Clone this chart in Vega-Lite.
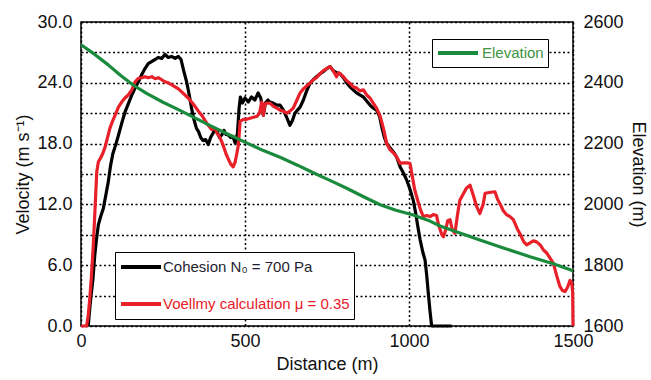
{
  "$schema": "https://vega.github.io/schema/vega-lite/v6.json",
  "width": 492,
  "height": 304,
  "autosize": {"type": "none"},
  "padding": {"left": 81, "top": 22, "right": 78, "bottom": 54},
  "config": {
    "font": "Liberation Sans",
    "view": {"stroke": "black", "strokeWidth": 1.5},
    "axis": {
      "labelFont": "Liberation Sans",
      "titleFont": "Liberation Sans",
      "labelFontSize": 18,
      "titleFontSize": 18,
      "titleFontWeight": "normal",
      "labelColor": "#111",
      "titleColor": "#111",
      "ticks": false,
      "domain": false,
      "gridColor": "black",
      "gridDash": [2, 2.5],
      "gridWidth": 1.5,
      "gridOpacity": 1,
      "labelFlush": false,
      "labelOverlap": false
    },
    "legend": {
      "labelFont": "Liberation Sans",
      "labelFontSize": 15,
      "labelLimit": 0,
      "symbolStrokeWidth": 4,
      "symbolType": "stroke",
      "symbolSize": 1600
    }
  },
  "datasets": {
    "velocity": [
      {"distance": 22, "velocity": 0, "series": "Cohesion N₀ = 700 Pa"},
      {"distance": 26, "velocity": 1.5, "series": "Cohesion N₀ = 700 Pa"},
      {"distance": 30, "velocity": 2.8, "series": "Cohesion N₀ = 700 Pa"},
      {"distance": 36, "velocity": 4.5, "series": "Cohesion N₀ = 700 Pa"},
      {"distance": 42, "velocity": 7.0, "series": "Cohesion N₀ = 700 Pa"},
      {"distance": 47, "velocity": 8.5, "series": "Cohesion N₀ = 700 Pa"},
      {"distance": 53, "velocity": 10.0, "series": "Cohesion N₀ = 700 Pa"},
      {"distance": 60, "velocity": 10.8, "series": "Cohesion N₀ = 700 Pa"},
      {"distance": 68, "velocity": 11.6, "series": "Cohesion N₀ = 700 Pa"},
      {"distance": 75, "velocity": 12.8, "series": "Cohesion N₀ = 700 Pa"},
      {"distance": 83, "velocity": 14.2, "series": "Cohesion N₀ = 700 Pa"},
      {"distance": 90, "velocity": 15.8, "series": "Cohesion N₀ = 700 Pa"},
      {"distance": 97, "velocity": 17.0, "series": "Cohesion N₀ = 700 Pa"},
      {"distance": 105, "velocity": 17.8, "series": "Cohesion N₀ = 700 Pa"},
      {"distance": 114, "velocity": 18.8, "series": "Cohesion N₀ = 700 Pa"},
      {"distance": 124, "velocity": 20.0, "series": "Cohesion N₀ = 700 Pa"},
      {"distance": 134, "velocity": 21.1, "series": "Cohesion N₀ = 700 Pa"},
      {"distance": 145, "velocity": 22.0, "series": "Cohesion N₀ = 700 Pa"},
      {"distance": 155, "velocity": 22.8, "series": "Cohesion N₀ = 700 Pa"},
      {"distance": 165, "velocity": 23.5, "series": "Cohesion N₀ = 700 Pa"},
      {"distance": 175, "velocity": 24.1, "series": "Cohesion N₀ = 700 Pa"},
      {"distance": 185, "velocity": 24.8, "series": "Cohesion N₀ = 700 Pa"},
      {"distance": 195, "velocity": 25.4, "series": "Cohesion N₀ = 700 Pa"},
      {"distance": 205, "velocity": 25.9, "series": "Cohesion N₀ = 700 Pa"},
      {"distance": 215, "velocity": 26.1, "series": "Cohesion N₀ = 700 Pa"},
      {"distance": 226, "velocity": 26.3, "series": "Cohesion N₀ = 700 Pa"},
      {"distance": 236, "velocity": 26.5, "series": "Cohesion N₀ = 700 Pa"},
      {"distance": 246, "velocity": 26.4, "series": "Cohesion N₀ = 700 Pa"},
      {"distance": 256, "velocity": 26.8, "series": "Cohesion N₀ = 700 Pa"},
      {"distance": 266, "velocity": 26.5, "series": "Cohesion N₀ = 700 Pa"},
      {"distance": 276, "velocity": 26.6, "series": "Cohesion N₀ = 700 Pa"},
      {"distance": 287, "velocity": 26.4, "series": "Cohesion N₀ = 700 Pa"},
      {"distance": 297, "velocity": 26.6, "series": "Cohesion N₀ = 700 Pa"},
      {"distance": 305, "velocity": 26.3, "series": "Cohesion N₀ = 700 Pa"},
      {"distance": 313, "velocity": 25.2, "series": "Cohesion N₀ = 700 Pa"},
      {"distance": 322, "velocity": 24.1, "series": "Cohesion N₀ = 700 Pa"},
      {"distance": 330, "velocity": 22.8, "series": "Cohesion N₀ = 700 Pa"},
      {"distance": 337, "velocity": 21.5, "series": "Cohesion N₀ = 700 Pa"},
      {"distance": 345, "velocity": 20.3, "series": "Cohesion N₀ = 700 Pa"},
      {"distance": 352, "velocity": 19.5, "series": "Cohesion N₀ = 700 Pa"},
      {"distance": 358, "velocity": 19.2, "series": "Cohesion N₀ = 700 Pa"},
      {"distance": 365, "velocity": 18.6, "series": "Cohesion N₀ = 700 Pa"},
      {"distance": 372, "velocity": 18.3, "series": "Cohesion N₀ = 700 Pa"},
      {"distance": 380, "velocity": 18.4, "series": "Cohesion N₀ = 700 Pa"},
      {"distance": 388, "velocity": 17.9, "series": "Cohesion N₀ = 700 Pa"},
      {"distance": 395, "velocity": 18.6, "series": "Cohesion N₀ = 700 Pa"},
      {"distance": 402, "velocity": 19.0, "series": "Cohesion N₀ = 700 Pa"},
      {"distance": 409, "velocity": 19.5, "series": "Cohesion N₀ = 700 Pa"},
      {"distance": 415, "velocity": 19.2, "series": "Cohesion N₀ = 700 Pa"},
      {"distance": 422, "velocity": 18.6, "series": "Cohesion N₀ = 700 Pa"},
      {"distance": 429, "velocity": 18.85, "series": "Cohesion N₀ = 700 Pa"},
      {"distance": 436, "velocity": 19.3, "series": "Cohesion N₀ = 700 Pa"},
      {"distance": 442, "velocity": 18.9, "series": "Cohesion N₀ = 700 Pa"},
      {"distance": 449, "velocity": 18.85, "series": "Cohesion N₀ = 700 Pa"},
      {"distance": 456, "velocity": 18.6, "series": "Cohesion N₀ = 700 Pa"},
      {"distance": 463, "velocity": 18.7, "series": "Cohesion N₀ = 700 Pa"},
      {"distance": 470, "velocity": 18.05, "series": "Cohesion N₀ = 700 Pa"},
      {"distance": 477, "velocity": 19.0, "series": "Cohesion N₀ = 700 Pa"},
      {"distance": 482, "velocity": 21.5, "series": "Cohesion N₀ = 700 Pa"},
      {"distance": 486, "velocity": 22.6, "series": "Cohesion N₀ = 700 Pa"},
      {"distance": 492, "velocity": 22.0, "series": "Cohesion N₀ = 700 Pa"},
      {"distance": 500, "velocity": 22.5, "series": "Cohesion N₀ = 700 Pa"},
      {"distance": 510, "velocity": 22.1, "series": "Cohesion N₀ = 700 Pa"},
      {"distance": 520, "velocity": 22.6, "series": "Cohesion N₀ = 700 Pa"},
      {"distance": 530, "velocity": 22.3, "series": "Cohesion N₀ = 700 Pa"},
      {"distance": 540, "velocity": 23.0, "series": "Cohesion N₀ = 700 Pa"},
      {"distance": 548, "velocity": 22.5, "series": "Cohesion N₀ = 700 Pa"},
      {"distance": 556, "velocity": 20.8, "series": "Cohesion N₀ = 700 Pa"},
      {"distance": 562, "velocity": 22.0, "series": "Cohesion N₀ = 700 Pa"},
      {"distance": 570, "velocity": 22.3, "series": "Cohesion N₀ = 700 Pa"},
      {"distance": 576, "velocity": 22.1, "series": "Cohesion N₀ = 700 Pa"},
      {"distance": 586, "velocity": 22.0, "series": "Cohesion N₀ = 700 Pa"},
      {"distance": 597, "velocity": 21.8, "series": "Cohesion N₀ = 700 Pa"},
      {"distance": 607, "velocity": 21.8, "series": "Cohesion N₀ = 700 Pa"},
      {"distance": 617, "velocity": 21.3, "series": "Cohesion N₀ = 700 Pa"},
      {"distance": 627, "velocity": 20.6, "series": "Cohesion N₀ = 700 Pa"},
      {"distance": 637, "velocity": 19.8, "series": "Cohesion N₀ = 700 Pa"},
      {"distance": 645, "velocity": 20.3, "series": "Cohesion N₀ = 700 Pa"},
      {"distance": 652, "velocity": 21.0, "series": "Cohesion N₀ = 700 Pa"},
      {"distance": 660, "velocity": 21.3, "series": "Cohesion N₀ = 700 Pa"},
      {"distance": 668, "velocity": 21.6, "series": "Cohesion N₀ = 700 Pa"},
      {"distance": 678, "velocity": 22.3, "series": "Cohesion N₀ = 700 Pa"},
      {"distance": 688, "velocity": 23.2, "series": "Cohesion N₀ = 700 Pa"},
      {"distance": 698, "velocity": 23.95, "series": "Cohesion N₀ = 700 Pa"},
      {"distance": 708, "velocity": 24.3, "series": "Cohesion N₀ = 700 Pa"},
      {"distance": 718, "velocity": 24.6, "series": "Cohesion N₀ = 700 Pa"},
      {"distance": 729, "velocity": 24.9, "series": "Cohesion N₀ = 700 Pa"},
      {"distance": 739, "velocity": 25.1, "series": "Cohesion N₀ = 700 Pa"},
      {"distance": 749, "velocity": 25.4, "series": "Cohesion N₀ = 700 Pa"},
      {"distance": 759, "velocity": 25.6, "series": "Cohesion N₀ = 700 Pa"},
      {"distance": 769, "velocity": 25.2, "series": "Cohesion N₀ = 700 Pa"},
      {"distance": 779, "velocity": 25.0, "series": "Cohesion N₀ = 700 Pa"},
      {"distance": 790, "velocity": 24.9, "series": "Cohesion N₀ = 700 Pa"},
      {"distance": 800, "velocity": 24.5, "series": "Cohesion N₀ = 700 Pa"},
      {"distance": 810, "velocity": 24.0, "series": "Cohesion N₀ = 700 Pa"},
      {"distance": 820, "velocity": 23.6, "series": "Cohesion N₀ = 700 Pa"},
      {"distance": 830, "velocity": 23.3, "series": "Cohesion N₀ = 700 Pa"},
      {"distance": 840, "velocity": 23.0, "series": "Cohesion N₀ = 700 Pa"},
      {"distance": 850, "velocity": 22.8, "series": "Cohesion N₀ = 700 Pa"},
      {"distance": 861, "velocity": 22.6, "series": "Cohesion N₀ = 700 Pa"},
      {"distance": 871, "velocity": 22.2, "series": "Cohesion N₀ = 700 Pa"},
      {"distance": 881, "velocity": 21.8, "series": "Cohesion N₀ = 700 Pa"},
      {"distance": 891, "velocity": 21.5, "series": "Cohesion N₀ = 700 Pa"},
      {"distance": 901, "velocity": 21.3, "series": "Cohesion N₀ = 700 Pa"},
      {"distance": 910, "velocity": 20.7, "series": "Cohesion N₀ = 700 Pa"},
      {"distance": 918, "velocity": 19.5, "series": "Cohesion N₀ = 700 Pa"},
      {"distance": 925, "velocity": 18.6, "series": "Cohesion N₀ = 700 Pa"},
      {"distance": 932, "velocity": 18.0, "series": "Cohesion N₀ = 700 Pa"},
      {"distance": 942, "velocity": 17.6, "series": "Cohesion N₀ = 700 Pa"},
      {"distance": 952, "velocity": 17.2, "series": "Cohesion N₀ = 700 Pa"},
      {"distance": 962, "velocity": 16.7, "series": "Cohesion N₀ = 700 Pa"},
      {"distance": 973, "velocity": 15.7, "series": "Cohesion N₀ = 700 Pa"},
      {"distance": 983, "velocity": 15.1, "series": "Cohesion N₀ = 700 Pa"},
      {"distance": 993, "velocity": 14.4, "series": "Cohesion N₀ = 700 Pa"},
      {"distance": 1003, "velocity": 13.5, "series": "Cohesion N₀ = 700 Pa"},
      {"distance": 1013, "velocity": 12.4, "series": "Cohesion N₀ = 700 Pa"},
      {"distance": 1020, "velocity": 11.2, "series": "Cohesion N₀ = 700 Pa"},
      {"distance": 1027, "velocity": 9.8, "series": "Cohesion N₀ = 700 Pa"},
      {"distance": 1034, "velocity": 8.5, "series": "Cohesion N₀ = 700 Pa"},
      {"distance": 1042, "velocity": 7.3, "series": "Cohesion N₀ = 700 Pa"},
      {"distance": 1049, "velocity": 6.5, "series": "Cohesion N₀ = 700 Pa"},
      {"distance": 1054, "velocity": 5.0, "series": "Cohesion N₀ = 700 Pa"},
      {"distance": 1059, "velocity": 3.2, "series": "Cohesion N₀ = 700 Pa"},
      {"distance": 1064, "velocity": 1.5, "series": "Cohesion N₀ = 700 Pa"},
      {"distance": 1069, "velocity": 0, "series": "Cohesion N₀ = 700 Pa"},
      {"distance": 1130, "velocity": 0, "series": "Cohesion N₀ = 700 Pa"},
      {"distance": 0, "velocity": 0, "series": "Voellmy calculation μ = 0.35"},
      {"distance": 17, "velocity": 0, "series": "Voellmy calculation μ = 0.35"},
      {"distance": 22, "velocity": 1.0, "series": "Voellmy calculation μ = 0.35"},
      {"distance": 27, "velocity": 2.8, "series": "Voellmy calculation μ = 0.35"},
      {"distance": 32, "velocity": 5.0, "series": "Voellmy calculation μ = 0.35"},
      {"distance": 37, "velocity": 7.7, "series": "Voellmy calculation μ = 0.35"},
      {"distance": 42, "velocity": 11.0, "series": "Voellmy calculation μ = 0.35"},
      {"distance": 48, "velocity": 15.2, "series": "Voellmy calculation μ = 0.35"},
      {"distance": 53, "velocity": 16.2, "series": "Voellmy calculation μ = 0.35"},
      {"distance": 60, "velocity": 16.6, "series": "Voellmy calculation μ = 0.35"},
      {"distance": 66, "velocity": 17.0, "series": "Voellmy calculation μ = 0.35"},
      {"distance": 73, "velocity": 17.6, "series": "Voellmy calculation μ = 0.35"},
      {"distance": 80, "velocity": 18.5, "series": "Voellmy calculation μ = 0.35"},
      {"distance": 88, "velocity": 19.5, "series": "Voellmy calculation μ = 0.35"},
      {"distance": 96, "velocity": 20.2, "series": "Voellmy calculation μ = 0.35"},
      {"distance": 104, "velocity": 20.8, "series": "Voellmy calculation μ = 0.35"},
      {"distance": 114, "velocity": 21.6, "series": "Voellmy calculation μ = 0.35"},
      {"distance": 124, "velocity": 22.1, "series": "Voellmy calculation μ = 0.35"},
      {"distance": 134, "velocity": 22.5, "series": "Voellmy calculation μ = 0.35"},
      {"distance": 144, "velocity": 22.8, "series": "Voellmy calculation μ = 0.35"},
      {"distance": 155, "velocity": 23.3, "series": "Voellmy calculation μ = 0.35"},
      {"distance": 165, "velocity": 24.1, "series": "Voellmy calculation μ = 0.35"},
      {"distance": 175, "velocity": 24.45, "series": "Voellmy calculation μ = 0.35"},
      {"distance": 185, "velocity": 24.5, "series": "Voellmy calculation μ = 0.35"},
      {"distance": 195, "velocity": 24.6, "series": "Voellmy calculation μ = 0.35"},
      {"distance": 205, "velocity": 24.5, "series": "Voellmy calculation μ = 0.35"},
      {"distance": 216, "velocity": 24.6, "series": "Voellmy calculation μ = 0.35"},
      {"distance": 226, "velocity": 24.4, "series": "Voellmy calculation μ = 0.35"},
      {"distance": 236, "velocity": 24.5, "series": "Voellmy calculation μ = 0.35"},
      {"distance": 246, "velocity": 24.3, "series": "Voellmy calculation μ = 0.35"},
      {"distance": 256, "velocity": 24.1, "series": "Voellmy calculation μ = 0.35"},
      {"distance": 266, "velocity": 24.0, "series": "Voellmy calculation μ = 0.35"},
      {"distance": 277, "velocity": 23.8, "series": "Voellmy calculation μ = 0.35"},
      {"distance": 287, "velocity": 23.6, "series": "Voellmy calculation μ = 0.35"},
      {"distance": 297, "velocity": 23.4, "series": "Voellmy calculation μ = 0.35"},
      {"distance": 307, "velocity": 23.1, "series": "Voellmy calculation μ = 0.35"},
      {"distance": 317, "velocity": 22.8, "series": "Voellmy calculation μ = 0.35"},
      {"distance": 327, "velocity": 22.5, "series": "Voellmy calculation μ = 0.35"},
      {"distance": 337, "velocity": 22.1, "series": "Voellmy calculation μ = 0.35"},
      {"distance": 347, "velocity": 21.7, "series": "Voellmy calculation μ = 0.35"},
      {"distance": 358, "velocity": 21.2, "series": "Voellmy calculation μ = 0.35"},
      {"distance": 368, "velocity": 20.8, "series": "Voellmy calculation μ = 0.35"},
      {"distance": 378, "velocity": 20.3, "series": "Voellmy calculation μ = 0.35"},
      {"distance": 388, "velocity": 19.8, "series": "Voellmy calculation μ = 0.35"},
      {"distance": 398, "velocity": 19.4, "series": "Voellmy calculation μ = 0.35"},
      {"distance": 409, "velocity": 19.5, "series": "Voellmy calculation μ = 0.35"},
      {"distance": 415, "velocity": 19.0, "series": "Voellmy calculation μ = 0.35"},
      {"distance": 422, "velocity": 18.7, "series": "Voellmy calculation μ = 0.35"},
      {"distance": 429, "velocity": 18.2, "series": "Voellmy calculation μ = 0.35"},
      {"distance": 436, "velocity": 17.6, "series": "Voellmy calculation μ = 0.35"},
      {"distance": 442, "velocity": 17.0, "series": "Voellmy calculation μ = 0.35"},
      {"distance": 449, "velocity": 16.5, "series": "Voellmy calculation μ = 0.35"},
      {"distance": 456, "velocity": 16.0, "series": "Voellmy calculation μ = 0.35"},
      {"distance": 464, "velocity": 15.7, "series": "Voellmy calculation μ = 0.35"},
      {"distance": 470, "velocity": 16.2, "series": "Voellmy calculation μ = 0.35"},
      {"distance": 475, "velocity": 17.0, "series": "Voellmy calculation μ = 0.35"},
      {"distance": 480, "velocity": 17.9, "series": "Voellmy calculation μ = 0.35"},
      {"distance": 485, "velocity": 20.2, "series": "Voellmy calculation μ = 0.35"},
      {"distance": 495, "velocity": 20.4, "series": "Voellmy calculation μ = 0.35"},
      {"distance": 505, "velocity": 20.4, "series": "Voellmy calculation μ = 0.35"},
      {"distance": 515, "velocity": 20.5, "series": "Voellmy calculation μ = 0.35"},
      {"distance": 526, "velocity": 20.6, "series": "Voellmy calculation μ = 0.35"},
      {"distance": 537, "velocity": 20.7, "series": "Voellmy calculation μ = 0.35"},
      {"distance": 544, "velocity": 21.0, "series": "Voellmy calculation μ = 0.35"},
      {"distance": 551, "velocity": 22.1, "series": "Voellmy calculation μ = 0.35"},
      {"distance": 556, "velocity": 20.8, "series": "Voellmy calculation μ = 0.35"},
      {"distance": 561, "velocity": 21.9, "series": "Voellmy calculation μ = 0.35"},
      {"distance": 568, "velocity": 22.0, "series": "Voellmy calculation μ = 0.35"},
      {"distance": 576, "velocity": 22.0, "series": "Voellmy calculation μ = 0.35"},
      {"distance": 586, "velocity": 21.7, "series": "Voellmy calculation μ = 0.35"},
      {"distance": 597, "velocity": 21.5, "series": "Voellmy calculation μ = 0.35"},
      {"distance": 607, "velocity": 21.3, "series": "Voellmy calculation μ = 0.35"},
      {"distance": 617, "velocity": 21.2, "series": "Voellmy calculation μ = 0.35"},
      {"distance": 627, "velocity": 21.0, "series": "Voellmy calculation μ = 0.35"},
      {"distance": 637, "velocity": 21.2, "series": "Voellmy calculation μ = 0.35"},
      {"distance": 647, "velocity": 21.5, "series": "Voellmy calculation μ = 0.35"},
      {"distance": 657, "velocity": 22.2, "series": "Voellmy calculation μ = 0.35"},
      {"distance": 668, "velocity": 23.0, "series": "Voellmy calculation μ = 0.35"},
      {"distance": 678, "velocity": 23.4, "series": "Voellmy calculation μ = 0.35"},
      {"distance": 688, "velocity": 23.7, "series": "Voellmy calculation μ = 0.35"},
      {"distance": 698, "velocity": 23.95, "series": "Voellmy calculation μ = 0.35"},
      {"distance": 708, "velocity": 24.3, "series": "Voellmy calculation μ = 0.35"},
      {"distance": 718, "velocity": 24.5, "series": "Voellmy calculation μ = 0.35"},
      {"distance": 729, "velocity": 24.9, "series": "Voellmy calculation μ = 0.35"},
      {"distance": 739, "velocity": 25.2, "series": "Voellmy calculation μ = 0.35"},
      {"distance": 749, "velocity": 25.4, "series": "Voellmy calculation μ = 0.35"},
      {"distance": 759, "velocity": 25.6, "series": "Voellmy calculation μ = 0.35"},
      {"distance": 769, "velocity": 25.2, "series": "Voellmy calculation μ = 0.35"},
      {"distance": 779, "velocity": 24.6, "series": "Voellmy calculation μ = 0.35"},
      {"distance": 785, "velocity": 25.0, "series": "Voellmy calculation μ = 0.35"},
      {"distance": 790, "velocity": 24.9, "series": "Voellmy calculation μ = 0.35"},
      {"distance": 800, "velocity": 24.6, "series": "Voellmy calculation μ = 0.35"},
      {"distance": 810, "velocity": 24.2, "series": "Voellmy calculation μ = 0.35"},
      {"distance": 820, "velocity": 23.95, "series": "Voellmy calculation μ = 0.35"},
      {"distance": 830, "velocity": 23.6, "series": "Voellmy calculation μ = 0.35"},
      {"distance": 840, "velocity": 23.5, "series": "Voellmy calculation μ = 0.35"},
      {"distance": 850, "velocity": 23.2, "series": "Voellmy calculation μ = 0.35"},
      {"distance": 861, "velocity": 23.3, "series": "Voellmy calculation μ = 0.35"},
      {"distance": 871, "velocity": 22.8, "series": "Voellmy calculation μ = 0.35"},
      {"distance": 881, "velocity": 22.5, "series": "Voellmy calculation μ = 0.35"},
      {"distance": 891, "velocity": 22.0, "series": "Voellmy calculation μ = 0.35"},
      {"distance": 901, "velocity": 21.5, "series": "Voellmy calculation μ = 0.35"},
      {"distance": 912, "velocity": 20.7, "series": "Voellmy calculation μ = 0.35"},
      {"distance": 922, "velocity": 19.5, "series": "Voellmy calculation μ = 0.35"},
      {"distance": 932, "velocity": 18.0, "series": "Voellmy calculation μ = 0.35"},
      {"distance": 942, "velocity": 17.4, "series": "Voellmy calculation μ = 0.35"},
      {"distance": 952, "velocity": 17.1, "series": "Voellmy calculation μ = 0.35"},
      {"distance": 962, "velocity": 16.7, "series": "Voellmy calculation μ = 0.35"},
      {"distance": 973, "velocity": 16.05, "series": "Voellmy calculation μ = 0.35"},
      {"distance": 983, "velocity": 16.1, "series": "Voellmy calculation μ = 0.35"},
      {"distance": 993, "velocity": 16.1, "series": "Voellmy calculation μ = 0.35"},
      {"distance": 1003, "velocity": 16.05, "series": "Voellmy calculation μ = 0.35"},
      {"distance": 1010, "velocity": 14.8, "series": "Voellmy calculation μ = 0.35"},
      {"distance": 1017, "velocity": 13.5, "series": "Voellmy calculation μ = 0.35"},
      {"distance": 1023, "velocity": 12.8, "series": "Voellmy calculation μ = 0.35"},
      {"distance": 1030, "velocity": 12.0, "series": "Voellmy calculation μ = 0.35"},
      {"distance": 1037, "velocity": 11.3, "series": "Voellmy calculation μ = 0.35"},
      {"distance": 1044, "velocity": 10.8, "series": "Voellmy calculation μ = 0.35"},
      {"distance": 1054, "velocity": 10.9, "series": "Voellmy calculation μ = 0.35"},
      {"distance": 1064, "velocity": 10.8, "series": "Voellmy calculation μ = 0.35"},
      {"distance": 1074, "velocity": 11.0, "series": "Voellmy calculation μ = 0.35"},
      {"distance": 1084, "velocity": 10.9, "series": "Voellmy calculation μ = 0.35"},
      {"distance": 1090, "velocity": 10.0, "series": "Voellmy calculation μ = 0.35"},
      {"distance": 1100, "velocity": 9.0, "series": "Voellmy calculation μ = 0.35"},
      {"distance": 1105, "velocity": 8.8, "series": "Voellmy calculation μ = 0.35"},
      {"distance": 1112, "velocity": 9.5, "series": "Voellmy calculation μ = 0.35"},
      {"distance": 1118, "velocity": 10.4, "series": "Voellmy calculation μ = 0.35"},
      {"distance": 1125, "velocity": 10.5, "series": "Voellmy calculation μ = 0.35"},
      {"distance": 1132, "velocity": 9.5, "series": "Voellmy calculation μ = 0.35"},
      {"distance": 1140, "velocity": 9.15, "series": "Voellmy calculation μ = 0.35"},
      {"distance": 1148, "velocity": 11.0, "series": "Voellmy calculation μ = 0.35"},
      {"distance": 1155, "velocity": 12.4, "series": "Voellmy calculation μ = 0.35"},
      {"distance": 1165, "velocity": 13.0, "series": "Voellmy calculation μ = 0.35"},
      {"distance": 1175, "velocity": 13.6, "series": "Voellmy calculation μ = 0.35"},
      {"distance": 1186, "velocity": 13.9, "series": "Voellmy calculation μ = 0.35"},
      {"distance": 1196, "velocity": 12.9, "series": "Voellmy calculation μ = 0.35"},
      {"distance": 1206, "velocity": 11.8, "series": "Voellmy calculation μ = 0.35"},
      {"distance": 1216, "velocity": 11.1, "series": "Voellmy calculation μ = 0.35"},
      {"distance": 1226, "velocity": 12.0, "series": "Voellmy calculation μ = 0.35"},
      {"distance": 1232, "velocity": 13.1, "series": "Voellmy calculation μ = 0.35"},
      {"distance": 1250, "velocity": 13.2, "series": "Voellmy calculation μ = 0.35"},
      {"distance": 1262, "velocity": 13.25, "series": "Voellmy calculation μ = 0.35"},
      {"distance": 1270, "velocity": 12.5, "series": "Voellmy calculation μ = 0.35"},
      {"distance": 1280, "velocity": 11.9, "series": "Voellmy calculation μ = 0.35"},
      {"distance": 1287, "velocity": 11.4, "series": "Voellmy calculation μ = 0.35"},
      {"distance": 1297, "velocity": 11.0, "series": "Voellmy calculation μ = 0.35"},
      {"distance": 1308, "velocity": 10.8, "series": "Voellmy calculation μ = 0.35"},
      {"distance": 1318, "velocity": 10.5, "series": "Voellmy calculation μ = 0.35"},
      {"distance": 1330, "velocity": 9.6, "series": "Voellmy calculation μ = 0.35"},
      {"distance": 1340, "velocity": 9.0, "series": "Voellmy calculation μ = 0.35"},
      {"distance": 1350, "velocity": 8.3, "series": "Voellmy calculation μ = 0.35"},
      {"distance": 1359, "velocity": 8.0, "series": "Voellmy calculation μ = 0.35"},
      {"distance": 1369, "velocity": 8.2, "series": "Voellmy calculation μ = 0.35"},
      {"distance": 1379, "velocity": 8.4, "series": "Voellmy calculation μ = 0.35"},
      {"distance": 1389, "velocity": 8.3, "series": "Voellmy calculation μ = 0.35"},
      {"distance": 1400, "velocity": 8.0, "series": "Voellmy calculation μ = 0.35"},
      {"distance": 1410, "velocity": 7.5, "series": "Voellmy calculation μ = 0.35"},
      {"distance": 1420, "velocity": 7.2, "series": "Voellmy calculation μ = 0.35"},
      {"distance": 1430, "velocity": 6.7, "series": "Voellmy calculation μ = 0.35"},
      {"distance": 1440, "velocity": 6.2, "series": "Voellmy calculation μ = 0.35"},
      {"distance": 1450, "velocity": 5.0, "series": "Voellmy calculation μ = 0.35"},
      {"distance": 1460, "velocity": 3.9, "series": "Voellmy calculation μ = 0.35"},
      {"distance": 1468, "velocity": 3.5, "series": "Voellmy calculation μ = 0.35"},
      {"distance": 1476, "velocity": 3.4, "series": "Voellmy calculation μ = 0.35"},
      {"distance": 1483, "velocity": 3.8, "series": "Voellmy calculation μ = 0.35"},
      {"distance": 1491, "velocity": 4.5, "series": "Voellmy calculation μ = 0.35"},
      {"distance": 1496, "velocity": 4.3, "series": "Voellmy calculation μ = 0.35"},
      {"distance": 1499, "velocity": 3.3, "series": "Voellmy calculation μ = 0.35"},
      {"distance": 1500, "velocity": 0, "series": "Voellmy calculation μ = 0.35"}
    ],
    "elevation": [
      {"distance": 0, "elevation": 2525, "series": "Elevation"},
      {"distance": 40, "elevation": 2495, "series": "Elevation"},
      {"distance": 83, "elevation": 2459, "series": "Elevation"},
      {"distance": 120, "elevation": 2425, "series": "Elevation"},
      {"distance": 160, "elevation": 2392, "series": "Elevation"},
      {"distance": 200, "elevation": 2365, "series": "Elevation"},
      {"distance": 250, "elevation": 2336, "series": "Elevation"},
      {"distance": 300, "elevation": 2310, "series": "Elevation"},
      {"distance": 350, "elevation": 2283, "series": "Elevation"},
      {"distance": 400, "elevation": 2256, "series": "Elevation"},
      {"distance": 450, "elevation": 2230, "series": "Elevation"},
      {"distance": 500, "elevation": 2205, "series": "Elevation"},
      {"distance": 556, "elevation": 2177, "series": "Elevation"},
      {"distance": 607, "elevation": 2155, "series": "Elevation"},
      {"distance": 660, "elevation": 2129, "series": "Elevation"},
      {"distance": 708, "elevation": 2104, "series": "Elevation"},
      {"distance": 759, "elevation": 2079, "series": "Elevation"},
      {"distance": 810, "elevation": 2053, "series": "Elevation"},
      {"distance": 860, "elevation": 2026, "series": "Elevation"},
      {"distance": 912, "elevation": 1999, "series": "Elevation"},
      {"distance": 960, "elevation": 1981, "series": "Elevation"},
      {"distance": 1013, "elevation": 1965, "series": "Elevation"},
      {"distance": 1064, "elevation": 1945, "series": "Elevation"},
      {"distance": 1095, "elevation": 1929, "series": "Elevation"},
      {"distance": 1140, "elevation": 1912, "series": "Elevation"},
      {"distance": 1216, "elevation": 1883, "series": "Elevation"},
      {"distance": 1290, "elevation": 1856, "series": "Elevation"},
      {"distance": 1369, "elevation": 1828, "series": "Elevation"},
      {"distance": 1440, "elevation": 1805, "series": "Elevation"},
      {"distance": 1500, "elevation": 1782, "series": "Elevation"}
    ]
  },
  "encoding": {
    "x": {
      "field": "distance",
      "type": "quantitative",
      "scale": {"domain": [0, 1500], "nice": false},
      "axis": {
        "title": "Distance (m)",
        "values": [0, 500, 1000, 1500],
        "format": "d",
        "grid": true,
        "labelPadding": 6,
        "titlePadding": 5
      }
    }
  },
  "layer": [
    {
      "data": {"name": "velocity"},
      "mark": {"type": "line", "strokeWidth": 3.2, "strokeJoin": "round"},
      "encoding": {
        "y": {
          "field": "velocity",
          "type": "quantitative",
          "scale": {"domain": [0, 30], "nice": false, "zero": false},
          "axis": {
            "orient": "left",
            "title": "Velocity (m s⁻¹)",
            "values": [0, 3, 6, 9, 12, 15, 18, 21, 24, 27, 30],
            "labelExpr": "datum.value % 6 == 0 ? format(datum.value, '.1f') : ''",
            "grid": true,
            "labelPadding": 9,
            "titlePadding": 4
          }
        },
        "color": {
          "field": "series",
          "type": "nominal",
          "scale": {
            "domain": ["Cohesion N₀ = 700 Pa", "Voellmy calculation μ = 0.35"],
            "range": ["#000000", "#e8202a"]
          },
          "legend": {
            "orient": "none",
            "legendX": 34,
            "legendY": 230,
            "title": null,
            "direction": "vertical",
            "strokeColor": "black",
            "fillColor": "white",
            "padding": 4,
            "clipHeight": 22,
            "rowPadding": 15,
            "labelOffset": 0,
            "encode": {
              "labels": {
                "update": {
                  "fill": {"signal": "datum.label == 'Cohesion N₀ = 700 Pa' ? '#1e1e30' : '#e8202a'"}
                }
              }
            }
          }
        }
      }
    },
    {
      "data": {"name": "elevation"},
      "mark": {"type": "line", "strokeWidth": 3.2, "strokeJoin": "round"},
      "encoding": {
        "y": {
          "field": "elevation",
          "type": "quantitative",
          "scale": {"domain": [1600, 2600], "nice": false, "zero": false},
          "axis": {
            "orient": "right",
            "title": "Elevation (m)",
            "values": [1600, 1700, 1800, 1900, 2000, 2100, 2200, 2300, 2400, 2500, 2600],
            "labelExpr": "datum.value % 200 == 0 ? format(datum.value, 'd') : ''",
            "grid": false,
            "labelPadding": 10,
            "titlePadding": 5
          }
        },
        "color": {
          "field": "series",
          "type": "nominal",
          "scale": {"domain": ["Elevation"], "range": ["#1a8a3c"]},
          "legend": {
            "orient": "none",
            "legendX": 351,
            "legendY": 17,
            "title": null,
            "strokeColor": "black",
            "fillColor": "white",
            "padding": 4,
            "clipHeight": 20,
            "labelOffset": 2,
            "labelColor": "#3f9440"
          }
        }
      }
    }
  ],
  "resolve": {"scale": {"y": "independent", "color": "independent"}}
}
